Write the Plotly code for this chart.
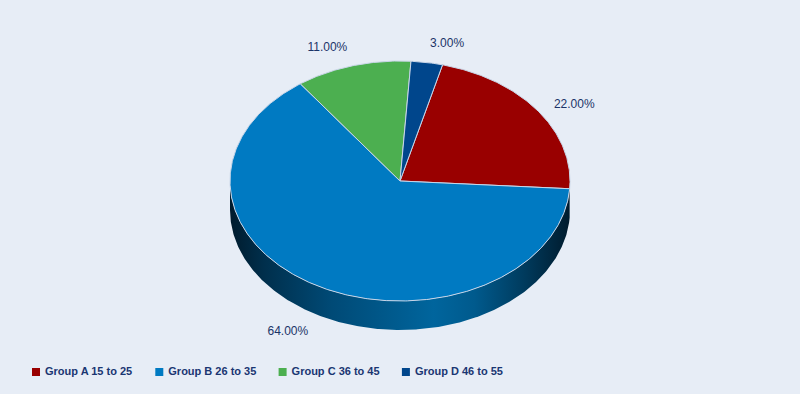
import numpy as np
import plotly.graph_objects as go

categories = ["Group A 15 to 25", "Group B 26 to 35", "Group C 36 to 45", "Group D 46 to 55"]
values = [22, 64, 11, 3]
colors = ["#990000", "#007ac2", "#4caf50", "#00468c"]
side_scales = [
    [[0, "#2a0000"], [0.5, "#6a0000"], [1, "#2a0000"]],
    [[0, "#001b2d"], [0.1, "#002f4c"], [0.3, "#004a76"], [0.6, "#00659d"], [0.72, "#005a8d"], [0.87, "#003a5c"], [1, "#001b2d"]],
    [[0, "#1c4a1e"], [0.5, "#357a38"], [1, "#1c4a1e"]],
    [[0, "#001426"], [0.5, "#003062"], [1, "#001426"]],
]

# geometry (pixel space)
CX, CY, RX, RY, DEPTH = 400, 181, 170, 120, 29
START = 14.5  # degrees clockwise from top

def pt(a_deg, dy=0.0, sx=RX, sy=RY):
    a = np.radians(a_deg)
    return CX + sx * np.sin(a), CY - sy * np.cos(a) + dy

total = sum(values)
bounds = [START]
for v in values:
    bounds.append(bounds[-1] + v / total * 360)

fig = go.Figure()

# sides (front half: 90..270 deg)
for i, v in enumerate(values):
    a0, a1 = bounds[i], bounds[i + 1]
    for shift in (0, 360, -360):
        lo = max(a0 + shift, 90)
        hi = min(a1 + shift, 270)
        if hi > lo:
            angs = np.linspace(lo, hi, max(int((hi - lo) * 2), 4))
            xs_t, ys_t = pt(angs)
            xs_b, ys_b = pt(angs[::-1], DEPTH)
            xs = np.concatenate([xs_t, xs_b, xs_t[:1]])
            ys = np.concatenate([ys_t, ys_b, ys_t[:1]])
            fig.add_trace(go.Scatter(
                x=xs, y=ys, mode="lines", fill="toself",
                line=dict(width=0, color="rgba(0,0,0,0)"),
                fillgradient=dict(type="horizontal", colorscale=side_scales[i]),
                hoverinfo="skip", showlegend=False))

# top faces
for i, v in enumerate(values):
    a0, a1 = bounds[i], bounds[i + 1]
    angs = np.linspace(a0, a1, max(int((a1 - a0) * 2), 4))
    xs, ys = pt(angs)
    xs = np.concatenate([[CX], xs, [CX]])
    ys = np.concatenate([[CY], ys, [CY]])
    fig.add_trace(go.Scatter(
        x=xs, y=ys, mode="lines", fill="toself", fillcolor=colors[i],
        line=dict(width=1, color="#c9d6e8"),
        hoverinfo="skip", showlegend=False))

# data labels
LX = 190
for i, v in enumerate(values):
    mid = (bounds[i] + bounds[i + 1]) / 2
    s, c = np.sin(np.radians(mid)), np.cos(np.radians(mid))
    if c >= 0:
        x, y = pt(mid, 11.5, LX, RY + 30)
    else:
        x, y = pt(mid, DEPTH + 1.5, LX, RY + 18)
    fig.add_trace(go.Scatter(
        x=[x], y=[y], mode="text", text=[f"{v:.2f}%"],
        textposition="middle right" if s > 0 else "middle left",
        textfont=dict(family="Liberation Sans, Arial, sans-serif", size=12, color="#1b3468"),
        hoverinfo="skip", showlegend=False))

# legend (drawn as a row of square markers with labels)
LEG_X0, LEG_STEP, LEG_Y, LEG_GAP = 36, 123.3, 372, 9
leg_x = [LEG_X0 + i * LEG_STEP for i in range(len(categories))]
fig.add_trace(go.Scatter(
    x=leg_x, y=[LEG_Y] * len(categories), mode="markers",
    marker=dict(symbol="square", size=8, color=colors, line=dict(width=0)),
    hoverinfo="skip", showlegend=False))
fig.add_trace(go.Scatter(
    x=[x + LEG_GAP for x in leg_x], y=[LEG_Y] * len(categories), mode="text",
    text=categories, textposition="middle right",
    textfont=dict(family="Liberation Sans, Arial, sans-serif", size=11, color="#1a3672", weight="bold"),
    hoverinfo="skip", showlegend=False))

fig.update_layout(
    width=800, height=394,
    margin=dict(l=0, r=0, t=0, b=0),
    paper_bgcolor="#e7edf6", plot_bgcolor="#e7edf6",
    xaxis=dict(range=[0, 800], visible=False, fixedrange=True),
    yaxis=dict(range=[394, 0], visible=False, fixedrange=True),
    showlegend=False,
)

fig.write_html("out.html")
